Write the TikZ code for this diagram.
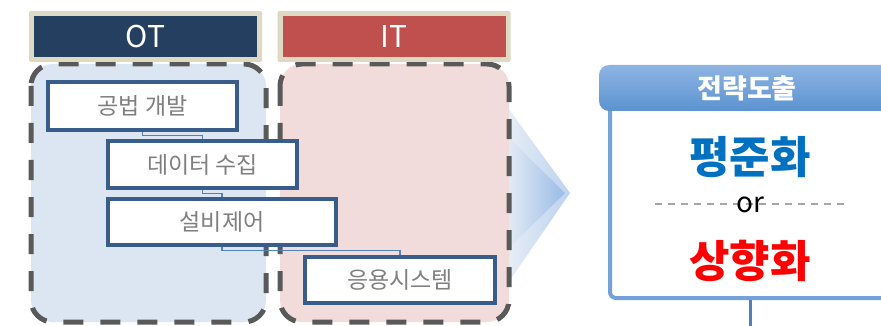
\documentclass[tikz,border=0pt]{standalone}
\usepackage{fontspec}
\setmainfont{Noto Sans CJK KR}
\usetikzlibrary{calc}
\definecolor{otfill}{HTML}{DCE6F2}
\definecolor{itfill}{HTML}{F2DCDB}
\definecolor{tan}{HTML}{DDD9C3}
\definecolor{otblue}{HTML}{243F60}
\definecolor{itred}{HTML}{C0504D}
\definecolor{boxblue}{HTML}{385D8A}
\definecolor{conblue}{HTML}{4F81BD}
\definecolor{dashgray}{HTML}{595959}
\definecolor{txtgray}{HTML}{7F7F7F}
\definecolor{hdrtop}{HTML}{8EB4E3}
\definecolor{hdrbot}{HTML}{5B93D0}
\definecolor{bodyblue}{HTML}{72A2D9}
\definecolor{ltblue}{HTML}{0070C0}
\tikzset{
  groupbox/.style={line width=5pt, draw=dashgray, dash pattern=on 20pt off 17pt, rounded corners=22pt},
  tanbox/.style={fill=tan, rounded corners=2pt, minimum width=233pt, minimum height=51pt, inner sep=0pt},
  hdrtext/.style={text=white, font=\fontsize{30}{34}\selectfont, minimum width=223pt, minimum height=41pt, inner sep=0pt},
  stepbox/.style={draw=boxblue, line width=4pt, fill=white, inner sep=0pt, text=txtgray, font=\fontsize{23}{27}\selectfont},
  conn/.style={draw=conblue, line width=1.2pt},
}
\begin{document}
\begin{tikzpicture}[x=1pt,y=-1pt]
\useasboundingbox (0,0) rectangle (881,326);
\clip (0,0) rectangle (881,326);
% arrow shapes
\shade[left color=otfill!70, right color=hdrtop!60] (508,108) -- (570,193) -- (508,283) -- cycle;
\shade[left color=otfill!80, right color=hdrtop!90] (508,137) -- (565,193) -- (508,249) -- cycle;
% group boxes
\fill[otfill, rounded corners=22pt] (31,64) rectangle (266,322);
\draw[groupbox] (31,64) rectangle (266,322);
\fill[itfill, rounded corners=22pt] (280,64) rectangle (509,322);
\draw[groupbox] (280,64) rectangle (509,322);
% headers
\node[tanbox] (otbg) at (145.5,36.5) {};
\node[hdrtext, fill=otblue] (ot) at (otbg.center) {OT};
\node[tanbox] (itbg) at (394,36.5) {};
\node[hdrtext, fill=itred] (it) at (itbg.center) {IT};
% steps
\node[stepbox, minimum width=189pt, minimum height=48pt] (a) at (142.5,106) {공법 개발};
\node[stepbox, minimum width=189pt, minimum height=47pt] (b) at (202.5,164.5) {데이터 수집};
\node[stepbox, minimum width=228pt, minimum height=46pt] (c) at (222,222) {설비제어};
\node[stepbox, minimum width=190pt, minimum height=46pt] (d) at (400,279.5) {응용시스템};
\draw[conn] (a.south) |- ($(a.south)!.5!(b.north)$) -| (b.north);
\draw[conn] (b.south) |- ($(b.south)!.5!(c.north)$) -| (c.north);
\draw[conn] (c.south) |- ($(c.south)!.5!(d.north)$) -| (d.north);
% strategy box
\node[draw=bodyblue, line width=4pt, fill=white, rounded corners=6pt, minimum width=280pt, minimum height=198pt, inner sep=0pt] (body) at (750,199) {};
\node[top color=hdrtop, bottom color=hdrbot, rounded corners=10pt, minimum width=298pt, minimum height=46pt, inner sep=0pt, text=white, font=\bfseries\fontsize{27}{30}\selectfont] (hdr) at (748,88) {\hspace*{-2pt}전략도출};
\node[text=ltblue, font=\bfseries\fontsize{44}{48}\selectfont] (p1) at (750,157.5) {평준화};
\coordinate (dl) at (655,204);
\coordinate (dr) at (847,204);
\draw[draw=black!35, line width=1.5pt, dash pattern=on 7pt off 6pt] (dl) -- (dr);
\node[font=\fontsize{28}{30}\selectfont] (or) at (750,205) {or};
\node[text=red, font=\bfseries\fontsize{44}{48}\selectfont] (p2) at (750,261) {상향화};
\coordinate (out) at (750,330);
\draw[draw=conblue, line width=3pt] (body.south) -- (out);
\end{tikzpicture}
\end{document}
